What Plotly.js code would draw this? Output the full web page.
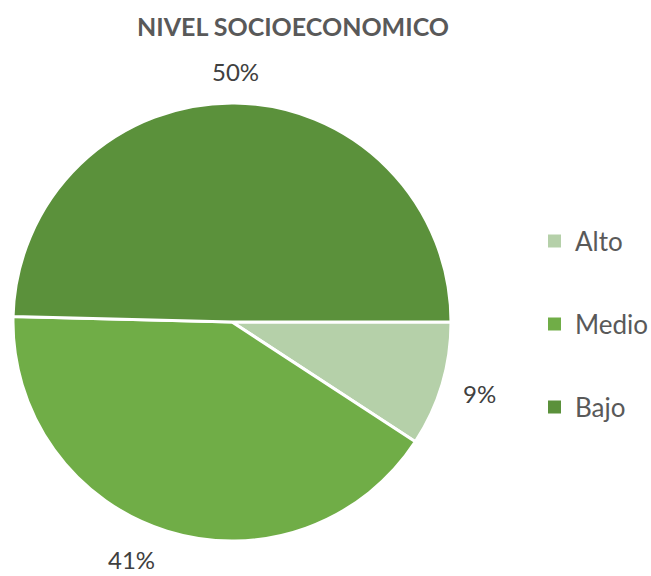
<!DOCTYPE html>
<html>
<head>
<meta charset="utf-8">
<script src="https://cdn.plot.ly/plotly-3.0.1.min.js"></script>
<style>html,body{margin:0;padding:0;background:#fff;}#chart{width:651px;height:576px;}</style>
</head>
<body>
<div id="chart"></div>
<script>
// ---- data ----
const categories = ["Alto", "Medio", "Bajo"];
const values = [9.2, 41.2, 49.6];
const colors = ["#b5d0a9", "#70ad47", "#5b913b"];
const chartTitle = "NIVEL SOCIOECONOMICO";

// ---- layout constants (px) ----
const W = 651, H = 576;
const cx = 232, cy = 322, R = 219;
const labelDist = R + 33;
const labelNudge = [[6, 0], [-26, -3], [0, 1]]; // style: best-fit label shifts
const FONT = "Lato, 'Source Sans Pro', 'Open Sans', sans-serif";

const total = values.reduce((a, b) => a + b, 0);
const px2x = p => p / W;
const px2y = p => 1 - p / H;

// labels placed at slice mid-angles (clockwise from 3 o'clock)
const annotations = [];
let cum = 0;
values.forEach((v, i) => {
  const mid = (cum + v / 2) / total * 2 * Math.PI;
  cum += v;
  const lx = cx + labelDist * Math.cos(mid) + labelNudge[i][0];
  const ly = cy + labelDist * Math.sin(mid) + labelNudge[i][1];
  annotations.push({
    xref: "paper", yref: "paper",
    x: px2x(lx), y: px2y(ly),
    xanchor: "center", yanchor: "middle",
    text: Math.round(v / total * 100) + "%",
    showarrow: false, borderpad: 0,
    font: {family: FONT, size: 24, color: "#404040"}
  });
});

// custom legend (wide spacing)
const shapes = [];
const legTop = 241, legStep = 83, sq = 13, legX = 548;
categories.forEach((c, i) => {
  const yc = legTop + i * legStep;
  shapes.push({
    type: "rect", xref: "paper", yref: "paper",
    x0: px2x(legX), x1: px2x(legX + sq),
    y0: px2y(yc + sq / 2), y1: px2y(yc - sq / 2),
    fillcolor: colors[i], line: {width: 0}
  });
  annotations.push({
    xref: "paper", yref: "paper",
    x: px2x(legX + sq + 12), y: px2y(yc),
    xanchor: "left", yanchor: "middle",
    text: c, showarrow: false,
    font: {family: FONT, size: 26, color: "#595959"}
  });
});

const trace = {
  type: "pie",
  labels: categories,
  values: values,
  sort: false,
  direction: "clockwise",
  rotation: 90,
  marker: {colors: colors, line: {color: "#ffffff", width: 3}},
  textinfo: "none",
  hoverinfo: "label+percent",
  domain: {x: [px2x(cx - R), px2x(cx + R)], y: [px2y(cy + R), px2y(cy - R)]},
  showlegend: false
};

const layout = {
  width: W, height: H,
  margin: {l: 0, r: 0, t: 0, b: 0},
  paper_bgcolor: "#ffffff",
  title: {
    text: "<b>" + chartTitle + "</b>",
    x: px2x(293), xanchor: "center",
    y: px2y(27), yanchor: "middle",
    font: {family: FONT, size: 25, color: "#595959"}
  },
  showlegend: false,
  annotations: annotations,
  shapes: shapes
};

Plotly.newPlot("chart", [trace], layout, {displayModeBar: false, staticPlot: true});
</script>
</body>
</html>
